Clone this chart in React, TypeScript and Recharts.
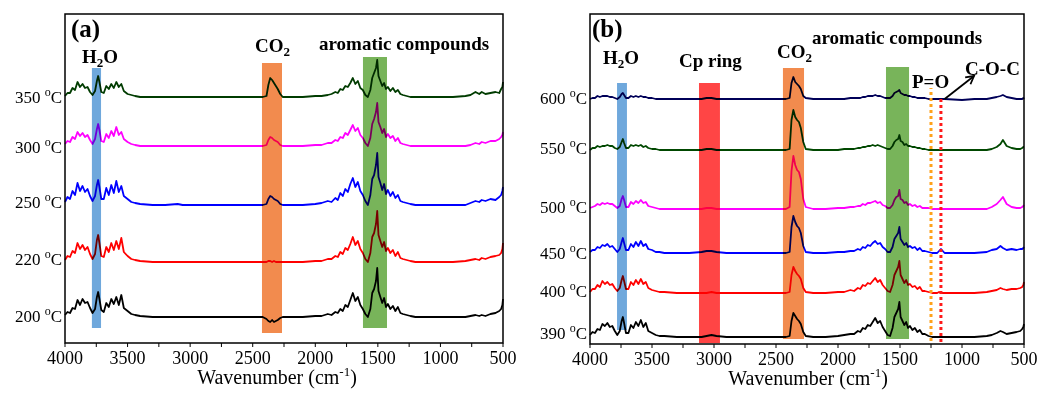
import React from 'react'
import { LineChart, Line, XAxis, YAxis, ReferenceArea, ReferenceLine } from 'recharts'

const FONT = '"Liberation Serif", "Times New Roman", serif'

// wavenumber grid (cm-1), shared by every trace
const waves = [
  4000, 3980, 3960, 3940, 3920, 3900, 3880, 3860, 3840, 3820,
  3800, 3780, 3760, 3745, 3735, 3725, 3710, 3690, 3670, 3650,
  3630, 3610, 3590, 3570, 3550, 3530, 3500, 3470, 3440, 3400,
  3300, 3200, 3100, 3060, 3020, 2980, 2900, 2700, 2500,
  2420, 2390, 2375, 2360, 2345, 2330, 2315, 2300, 2280, 2260,
  2200, 2100, 2000, 1950, 1900,
  1870, 1840, 1820, 1800, 1780, 1760, 1740, 1720, 1700, 1680, 1660, 1640, 1620, 1600, 1580,
  1560, 1545, 1530, 1515, 1505, 1495, 1480, 1465, 1450, 1435, 1420, 1400, 1380, 1360, 1340, 1320, 1300,
  1270, 1240, 1200, 1185, 1170, 1140, 1000, 900, 800, 760, 720, 690, 670, 640, 600, 560, 530, 515, 505, 500,
]

// panel (a): absorbance above each trace's own baseline
const a200 = [
  2, 5, 4, 9, 8, 17, 12, 18, 14, 15, 9, 4, 8, 20, 25, 18, 7, 5, 14, 10, 18, 13, 20, 12, 22, 9, 6, 3, 2, 1,
  0, 0, 0, 0, 0, 0, 0, 0, 0,
  0, -2, -4, -5, -3, -5, -4, -3, -1, 0,
  0, 0, 1, 1, 3,
  2, 5, 4, 8, 6, 12, 10, 17, 24, 16, 20, 12, 8, 3, 0,
  8, 24, 28, 36, 49, 26, 20, 14, 19, 10, 13, 8, 11, 6, 10, 4, 3,
  2, 1, 0, 0, 0, 0, 0, 0, 0, 1, 2, 1, 2, 1, 3, 4, 6, 8, 12, 18,
]
const a220 = [
  2, 6, 5, 11, 9, 19, 13, 17, 12, 15, 8, 3, 8, 22, 27, 19, 6, 5, 15, 10, 19, 12, 21, 13, 24, 10, 6, 3, 2, 1,
  0, 0, 0, 0, 0, 0, 0, 0, 0,
  0, 0, 1, 1, 0, 1, 0, 0, 0, 0,
  0, 0, 1, 1, 3,
  3, 6, 5, 10, 8, 14, 12, 18, 25, 17, 21, 13, 9, 3, 0,
  9, 25, 29, 38, 51, 27, 21, 15, 20, 11, 14, 9, 12, 6, 10, 4, 3,
  2, 1, 0, 0, 0, 0, 0, 0, 1, 2, 3, 2, 4, 3, 5, 6, 7, 9, 13, 19,
]
const a250 = [
  3, 8, 6, 14, 10, 22, 14, 19, 13, 16, 9, 4, 9, 20, 25, 18, 6, 6, 17, 10, 20, 12, 24, 13, 19, 9, 6, 3, 2, 1,
  0, 0, 1, 0, 0, 0, 0, 0, 0,
  0, 1, 6, 9, 8, 6, 5, 4, 1, 0,
  0, 0, 1, 2, 4,
  3, 7, 5, 12, 9, 16, 13, 21, 27, 18, 23, 14, 10, 4, 0,
  10, 26, 30, 40, 52, 28, 22, 15, 21, 11, 15, 9, 13, 7, 10, 4, 3,
  2, 1, 0, 0, 0, 0, 0, 0, 0, 2, 4, 3, 5, 4, 6, 5, 8, 10, 14, 18,
]
const a300 = [
  2, 5, 4, 9, 7, 14, 10, 13, 9, 11, 6, 2, 7, 17, 22, 16, 5, 4, 12, 8, 15, 10, 19, 11, 14, 7, 4, 2, 1, 0,
  0, 0, 0, 0, 0, 0, 0, 0, 0,
  0, 1, 6, 9, 8, 6, 5, 4, 1, 0,
  0, 0, 1, 1, 3,
  3, 6, 5, 9, 8, 13, 11, 16, 21, 15, 18, 11, 8, 3, 0,
  8, 22, 27, 34, 43, 24, 19, 13, 17, 9, 12, 8, 10, 5, 8, 3, 2,
  1, 0, 0, 0, 0, 0, 0, 0, 0, 1, 3, 2, 4, 3, 5, 5, 7, 9, 11, 14,
]
const a350 = [
  1, 4, 4, 9, 7, 15, 10, 13, 9, 10, 5, 2, 6, 16, 21, 15, 5, 4, 11, 8, 13, 9, 15, 10, 13, 6, 3, 2, 1, 0,
  0, 0, 0, 0, 0, 0, 0, 0, 0,
  0, 1, 12, 19, 17, 14, 11, 8, 3, 0,
  0, 0, 1, 1, 2,
  3, 5, 4, 8, 7, 11, 10, 14, 19, 13, 16, 9, 7, 2, 0,
  7, 19, 24, 29, 37, 21, 16, 11, 14, 8, 10, 6, 9, 5, 7, 3, 2,
  1, 0, 0, 0, 0, 0, 0, 0, 1, 2, 5, 3, 5, 3, 4, 5, 4, 8, 10, 15,
]

// panel (b)
const b390 = [
  2, 5, 4, 8, 7, 13, 11, 14, 10, 11, 6, 2, 6, 16, 20, 14, 4, 4, 12, 9, 15, 11, 17, 10, 14, 6, 4, 2, 1, 1,
  0, 0, 0, 1, 2, 1, 0, 0, 0,
  0, 1, 16, 24, 21, 18, 16, 13, 5, 1,
  0, 0, 1, 2, 3,
  3, 6, 5, 9, 8, 12, 11, 15, 19, 14, 16, 10, 6, 2, 1,
  9, 20, 24, 28, 35, 20, 16, 12, 15, 9, 11, 7, 9, 5, 7, 3, 3,
  1, 0, 0, 0, 0, 0, 0, 0, 1, 2, 4, 6, 5, 3, 4, 5, 6, 8, 10, 13,
]
const b400 = [
  1, 4, 4, 8, 6, 12, 9, 11, 8, 9, 5, 2, 5, 13, 17, 12, 4, 4, 11, 8, 13, 9, 14, 9, 11, 5, 3, 2, 1, 1,
  0, 0, 0, 0, 1, 0, 0, 0, 0,
  0, 1, 18, 26, 22, 19, 17, 14, 5, 1,
  0, 0, 1, 1, 3,
  2, 5, 4, 8, 7, 10, 9, 12, 15, 11, 13, 8, 5, 2, 1,
  8, 18, 22, 26, 32, 18, 14, 10, 13, 8, 9, 6, 7, 4, 6, 2, 2,
  1, 0, 0, 1, 0, 0, 0, 0, 1, 2, 3, 5, 4, 3, 4, 4, 5, 6, 8, 11,
]
const b450 = [
  1, 3, 3, 6, 5, 8, 7, 9, 6, 7, 4, 1, 4, 11, 15, 10, 3, 3, 9, 6, 11, 7, 12, 7, 9, 4, 3, 1, 1, 0,
  0, 0, 1, 2, 2, 1, 0, 0, 0,
  0, 1, 26, 37, 31, 27, 25, 20, 7, 1,
  0, 0, 1, 1, 2,
  2, 4, 3, 6, 5, 8, 7, 10, 12, 9, 10, 6, 4, 1, 1,
  6, 14, 17, 20, 26, 14, 11, 8, 10, 6, 7, 5, 6, 3, 5, 2, 2,
  1, 0, 0, 2, 4, 0, 0, 0, 1, 3, 4, 7, 5, 3, 4, 3, 4, 4, 5, 6,
]
const b500 = [
  1, 2, 3, 5, 4, 6, 5, 6, 5, 5, 3, 1, 3, 10, 13, 9, 2, 2, 7, 5, 8, 6, 9, 6, 7, 3, 2, 1, 0, 0,
  0, 0, 0, 1, 1, 0, 0, 0, 0,
  0, 2, 38, 53, 44, 39, 37, 30, 10, 2,
  0, 0, 1, 1, 2,
  2, 3, 3, 5, 4, 6, 6, 7, 8, 6, 7, 4, 3, 1, 1,
  4, 9, 12, 13, 19, 10, 9, 6, 7, 4, 5, 3, 4, 2, 3, 1, 1,
  1, 0, 0, 0, 0, 0, 0, 0, 0, 2, 5, 9, 12, 5, 2, 1, 1, 2, 3, 4,
]
const b550 = [
  0, 2, 2, 4, 3, 4, 4, 5, 4, 4, 2, 1, 3, 8, 11, 7, 2, 2, 5, 4, 5, 4, 5, 3, 4, 2, 1, 1, 0, 0,
  0, 0, 0, 1, 1, 0, 0, 0, 0,
  0, 1, 30, 40, 33, 30, 28, 22, 8, 1,
  0, 0, 0, 1, 1,
  1, 2, 2, 3, 3, 4, 4, 5, 4, 5, 4, 3, 2, 1, 1,
  4, 8, 10, 11, 15, 9, 8, 5, 6, 4, 4, 3, 3, 2, 2, 1, 1,
  0, 0, 0, 0, 0, 0, 0, 0, 0, 1, 3, 6, 10, 4, 2, 1, 1, 2, 3, 3,
]
const b600 = [
  0, 1, 1, 3, 2, 3, 3, 3, 2, 2, 1, 0, 2, 5, 6, 4, 1, 1, 3, 2, 3, 2, 3, 2, 2, 1, 1, 0, 0, 0,
  0, 0, 0, 1, 1, 0, 0, 0, 0,
  0, 1, 16, 22, 17, 15, 13, 10, 3, 1,
  0, 0, 0, 0, 1,
  1, 1, 1, 2, 2, 3, 3, 3, 4, 3, 3, 2, 1, 1, 1,
  3, 6, 7, 8, 9, 6, 5, 4, 4, 3, 3, 2, 2, 1, 1, 1, 1,
  0, 0, 0, 0, 0, 0, -1, 0, 0, 1, 2, 3, 4, 2, 1, 0, 0, 0, 1, 0,
]

const xTicks = [4000, 3750, 3500, 3250, 3000, 2750, 2500, 2250, 2000, 1750, 1500, 1250, 1000, 750, 500]

const tempsA = ['200', '220', '250', '300', '350']
const offsetsA = [26, 81, 138, 197, 246]
const labelPosA = [27, 84, 141, 196, 246]

const tempsB = ['390', '400', '450', '500', '550', '600']
const offsetsB = [7, 51, 91, 135, 194, 245]
const labelPosB = [11, 53, 91, 137, 196, 246]

function buildRows(series: number[][], offsets: number[]) {
  return waves.map((w, i) => {
    const row: Record<string, number> = { w }
    series.forEach((s, k) => {
      row['s' + k] = offsets[k] + s[i]
    })
    return row
  })
}

const rowsA = buildRows([a200, a220, a250, a300, a350], offsetsA)
const rowsB = buildRows([b390, b400, b450, b500, b550, b600], offsetsB)

const colorsA = ['#000000', '#ff0000', '#0000ff', '#ff00ff', '#003c00']
const colorsB = ['#000000', '#ff0000', '#0000ff', '#ff00ff', '#004800', '#000058']

const BLUE = '#6fa8dc'
const ORANGE = '#f28b4e'
const GREEN = '#78b45a'
const RED = '#ff4545'

const bandsA = [
  { x1: 3785, x2: 3712, y1: 15, y2: 275, fill: BLUE },
  { x1: 2426, x2: 2266, y1: 10, y2: 280, fill: ORANGE },
  { x1: 1619, x2: 1427, y1: 15, y2: 286, fill: GREEN },
]
const bandsB = [
  { x1: 3782, x2: 3702, y1: 14, y2: 261, fill: BLUE },
  { x1: 3121, x2: 2952, y1: 1, y2: 261, fill: RED },
  { x1: 2444, x2: 2274, y1: 5, y2: 276, fill: ORANGE },
  { x1: 1613, x2: 1427, y1: 5, y2: 277, fill: GREEN },
]

function TempTick(props: any) {
  const { x, y, payload, labels, positions } = props
  const idx = positions.indexOf(payload.value)
  return (
    <text x={x} y={y + 6} textAnchor="end" fontSize={17} fontFamily={FONT} fill="#000">
      {labels[idx]}{' '}
      <tspan dy={-7} fontSize={12}>o</tspan>
      <tspan dy={7}>C</tspan>
    </text>
  )
}

function Arrow(props: any) {
  const { x1, y1, x2, y2 } = props
  const ang = Math.atan2(y2 - y1, x2 - x1)
  const len = 9
  const p1 = [x2 - len * Math.cos(ang - 0.5), y2 - len * Math.sin(ang - 0.5)]
  const p2 = [x2 - len * Math.cos(ang + 0.5), y2 - len * Math.sin(ang + 0.5)]
  return (
    <g>
      <line x1={x1} y1={y1} x2={x2} y2={y2} stroke="#000" strokeWidth={1.8} />
      <polyline points={`${p1[0]},${p1[1]} ${x2},${y2} ${p2[0]},${p2[1]}`} fill="none" stroke="#000" strokeWidth={1.8} />
    </g>
  )
}

interface PanelProps {
  rows: Record<string, number>[]
  colors: string[]
  temps: string[]
  labelPos: number[]
  bands: { x1: number; x2: number; y1: number; y2: number; fill: string }[]
  width: number
  yMax: number
  yWidth: number
  right: number
  xHeight: number
  extra?: boolean
}

function Panel({ rows, colors, temps, labelPos, bands, width, yMax, yWidth, right, xHeight, extra }: PanelProps) {
  return (
    <LineChart width={width} height={394} data={rows} margin={{ top: 14, right, bottom: 0, left: 0 }}>
      <XAxis
        dataKey="w"
        type="number"
        domain={[500, 4000]}
        reversed
        ticks={xTicks}
        interval={0}
        tickFormatter={(v: number) => (v % 500 === 0 ? String(v) : '')}
        axisLine={false}
        tickLine={{ stroke: '#000' }}
        tickSize={4}
        tickMargin={4}
        height={xHeight}
        tick={{ fontSize: 18, fill: '#000', fontFamily: FONT }}
      />
      <YAxis
        type="number"
        domain={[0, yMax]}
        ticks={labelPos}
        interval={0}
        axisLine={false}
        tickLine={false}
        tickSize={0}
        tickMargin={3}
        width={yWidth}
        tick={(p: any) => <TempTick {...p} labels={temps} positions={labelPos} />}
      />
      {colors.map((c, k) => (
        <Line
          key={k}
          dataKey={'s' + k}
          type="linear"
          stroke={c}
          strokeWidth={1.8}
          strokeLinejoin="round"
          dot={false}
          isAnimationActive={false}
        />
      ))}
      {bands.map((b, i) => (
        <ReferenceArea key={i} x1={b.x1} x2={b.x2} y1={b.y1} y2={b.y2} fill={b.fill} fillOpacity={1} stroke="none" />
      ))}
      {extra && (
        <ReferenceLine
          segment={[{ x: 1250, y: 3 }, { x: 1250, y: 256 }]}
          stroke="#ffa21a"
          strokeWidth={3}
          strokeDasharray="3 3"
        />
      )}
      {extra && (
        <ReferenceLine
          segment={[{ x: 1170, y: 2 }, { x: 1170, y: 246 }]}
          stroke="#ff1a1a"
          strokeWidth={3}
          strokeDasharray="3 3"
        />
      )}
      {extra && <ReferenceLine segment={[{ x: 1140, y: 245 }, { x: 903, y: 268 }]} shape={Arrow} />}
      <ReferenceArea x1={4000} x2={500} y1={0} y2={yMax} fill="none" stroke="#000" strokeWidth={1.5} />
    </LineChart>
  )
}

function H2O({ x, y }: { x: number; y: number }) {
  return (
    <text x={x} y={y}>
      H<tspan dy={4} fontSize={13}>2</tspan>
      <tspan dy={-4}>O</tspan>
    </text>
  )
}

function CO2({ x, y }: { x: number; y: number }) {
  return (
    <text x={x} y={y}>
      CO<tspan dy={4} fontSize={13}>2</tspan>
    </text>
  )
}

export default function App() {
  return (
    <div className="spectra" style={{ position: 'absolute', left: 0, top: 0, width: 1047, height: 394, background: '#fff' }}>
      <style>{`.spectra .recharts-line-curve, .spectra .recharts-reference-area-rect { mix-blend-mode: multiply; }`}</style>
      <div style={{ position: 'absolute', left: 0, top: 0 }}>
        <Panel
          rows={rowsA}
          colors={colorsA}
          temps={tempsA}
          labelPos={labelPosA}
          bands={bandsA}
          width={520}
          yMax={329}
          yWidth={65}
          right={17}
          xHeight={51}
        />
      </div>
      <div style={{ position: 'absolute', left: 520, top: 0 }}>
        <Panel
          rows={rowsB}
          colors={colorsB}
          temps={tempsB}
          labelPos={labelPosB}
          bands={bandsB}
          width={527}
          yMax={330}
          yWidth={70}
          right={23}
          xHeight={50}
          extra
        />
      </div>
      <svg
        width={1047}
        height={394}
        style={{ position: 'absolute', left: 0, top: 0, pointerEvents: 'none' }}
        fontFamily={FONT}
        fill="#000"
      >
        <g fontWeight="bold" fontSize={19}>
          <text x={71} y={37} fontSize={25}>(a)</text>
          <H2O x={82} y={63} />
          <CO2 x={255} y={52} />
          <text x={319} y={50}>aromatic compounds</text>
          <text x={592} y={37} fontSize={25}>(b)</text>
          <H2O x={603} y={64} />
          <text x={679} y={67}>Cp ring</text>
          <CO2 x={777} y={58} />
          <text x={812} y={44}>aromatic compounds</text>
          <text x={912} y={88}>P=O</text>
          <text x={965} y={75}>C-O-C</text>
        </g>
        <g fontSize={20}>
          <text x={277} y={384} textAnchor="middle">
            Wavenumber (cm<tspan dy={-8} fontSize={13}>-1</tspan>
            <tspan dy={8}>)</tspan>
          </text>
          <text x={808} y={385} textAnchor="middle">
            Wavenumber (cm<tspan dy={-8} fontSize={13}>-1</tspan>
            <tspan dy={8}>)</tspan>
          </text>
        </g>
      </svg>
    </div>
  )
}
